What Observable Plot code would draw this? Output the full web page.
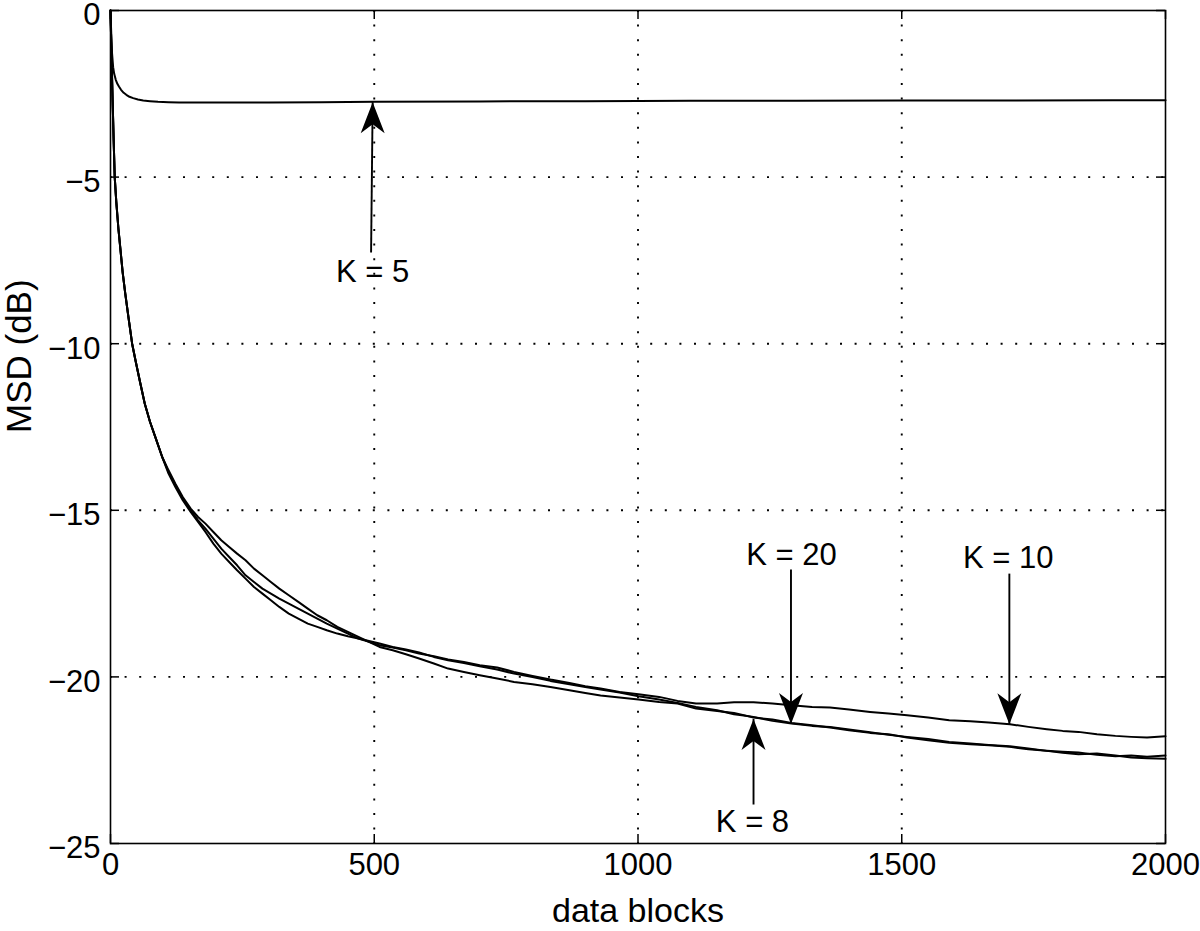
<!DOCTYPE html>
<html>
<head>
<meta charset="utf-8">
<script src="https://cdn.jsdelivr.net/npm/d3@7"></script>
<script src="https://cdn.jsdelivr.net/npm/@observablehq/plot@0.6"></script>
<style>
  html, body { margin: 0; padding: 0; background: #fff; }
  #chart svg { display: block; overflow: visible; }
</style>
</head>
<body>
<div id="chart"></div>
<script>
// ---- tick values ----
const xTicks = [0, 500, 1000, 1500, 2000];
const yTicks = [0, -5, -10, -15, -20, -25];

// ---- K = 5 curve ----
const blocksK5 = [0, 1, 2, 3, 5, 7, 10, 13, 16, 20, 25, 30, 36, 43, 52, 62, 75, 90, 110, 130, 160, 200, 300, 400, 500, 700, 900, 1100, 1300, 1500, 1700, 1900, 2000];
const msdK5 = [0, -0.5, -0.95, -1.3, -1.7, -1.9, -2.08, -2.2, -2.28, -2.38, -2.47, -2.53, -2.59, -2.63, -2.67, -2.7, -2.72, -2.74, -2.75, -2.76, -2.76, -2.76, -2.76, -2.75, -2.74, -2.73, -2.72, -2.71, -2.71, -2.7, -2.7, -2.69, -2.69];

// ---- K = 8, 10, 20 curves (shared data block positions) ----
const blocks = [0, 2, 4, 6, 8, 11, 15, 19, 23, 28, 34, 41, 48, 56, 65, 75, 86, 98, 110, 123, 137, 152,
  166, 180, 195, 210, 225, 240, 256, 272, 288, 304, 320, 338, 356, 374, 392, 410, 430, 450, 470, 490,
  510, 535, 560, 585, 613, 640, 670, 700, 733, 765, 800, 834, 870, 900, 929, 965, 1001, 1040, 1075, 1110,
  1150, 1182, 1219, 1255, 1291, 1330, 1364, 1400, 1440, 1475, 1510, 1550, 1590, 1630, 1665,
  1705, 1740, 1775, 1805, 1835, 1870, 1905, 1935, 1965, 2000];

const msdK10 = [0, -1.4, -2.7, -3.9, -5.0, -5.75, -6.55, -7.2, -7.85, -8.5, -9.2, -10.0, -10.55, -11.15, -11.8, -12.35, -12.85, -13.4, -13.8, -14.2, -14.6, -14.95,
  -15.2, -15.4, -15.65, -15.9, -16.1, -16.3, -16.5, -16.75, -16.95, -17.15, -17.35, -17.55, -17.75, -17.95, -18.15, -18.3, -18.5, -18.65, -18.8, -18.95,
  -19.05, -19.12, -19.2, -19.3, -19.38, -19.48, -19.55, -19.65, -19.72, -19.85, -19.97, -20.08, -20.18, -20.28, -20.35, -20.45, -20.52, -20.6, -20.72, -20.8,
  -20.8, -20.76, -20.76, -20.8, -20.85, -20.9, -20.92, -20.98, -21.05, -21.1, -21.15, -21.22, -21.3, -21.33, -21.37,
  -21.42, -21.5, -21.57, -21.62, -21.65, -21.72, -21.77, -21.8, -21.82, -21.78];

const msdK20 = [0, -1.4, -2.7, -3.9, -5.0, -5.75, -6.55, -7.2, -7.85, -8.5, -9.2, -10.0, -10.55, -11.15, -11.8, -12.35, -12.85, -13.4, -13.9, -14.3, -14.7, -15.05,
  -15.35, -15.65, -16.0, -16.3, -16.55, -16.8, -17.05, -17.3, -17.5, -17.7, -17.9, -18.1, -18.25, -18.4, -18.5, -18.6, -18.7, -18.78, -18.85, -18.92,
  -19.0, -19.1, -19.18, -19.27, -19.4, -19.5, -19.58, -19.68, -19.78, -19.9, -20.0, -20.12, -20.22, -20.3, -20.38, -20.47, -20.58, -20.68, -20.78, -20.9,
  -21.0, -21.12, -21.2, -21.32, -21.4, -21.47, -21.5, -21.58, -21.66, -21.74, -21.8, -21.86, -21.95, -22.0, -22.04,
  -22.08, -22.15, -22.22, -22.25, -22.27, -22.34, -22.38, -22.36, -22.4, -22.36];

const msdK8 = [0, -1.4, -2.7, -3.9, -5.0, -5.75, -6.55, -7.2, -7.85, -8.5, -9.2, -10.0, -10.55, -11.15, -11.8, -12.35, -12.85, -13.4, -13.85, -14.25, -14.65, -15.0,
  -15.3, -15.55, -15.85, -16.15, -16.4, -16.65, -16.95, -17.15, -17.35, -17.5, -17.65, -17.8, -17.95, -18.1, -18.25, -18.4, -18.55, -18.7, -18.85, -18.95,
  -19.1, -19.2, -19.32, -19.45, -19.6, -19.75, -19.85, -19.95, -20.05, -20.15, -20.22, -20.3, -20.4, -20.48, -20.56, -20.62, -20.68, -20.75, -20.8, -20.95,
  -21.02, -21.08, -21.22, -21.28, -21.38, -21.45, -21.52, -21.6, -21.68, -21.72, -21.82, -21.9, -21.98, -22.02, -22.05,
  -22.1, -22.17, -22.22, -22.28, -22.32, -22.3, -22.36, -22.42, -22.44, -22.46];

// ---- annotations ----
const annoLabel = ["K = 5", "K = 20", "K = 10", "K = 8"];
const annoLabelX = [497, 1291, 1702, 1217];
const annoLabelY = [-7.85, -16.33, -16.42, -24.37];
const arrowTailX = [494, 1290, 1704, 1219];
const arrowTailY = [-7.26, -16.78, -16.9, -23.83];
const arrowTipX = [497, 1290, 1704, 1219];
const arrowTipY = [-2.75, -21.41, -21.42, -21.26];

// ---- axis titles ----
const xTitle = "data blocks";
const yTitle = "MSD (dB)";

// ---- build tables ----
const rows = [];
blocksK5.forEach((b, i) => rows.push({k: "K = 5", x: b, y: msdK5[i]}));
blocks.forEach((b, i) => rows.push({k: "K = 8", x: b, y: msdK8[i]}));
blocks.forEach((b, i) => rows.push({k: "K = 10", x: b, y: msdK10[i]}));
blocks.forEach((b, i) => rows.push({k: "K = 20", x: b, y: msdK20[i]}));

const anno = annoLabel.map((t, i) => ({
  t, lx: annoLabelX[i], ly: annoLabelY[i],
  x1: arrowTailX[i], y1: arrowTailY[i], x2: arrowTipX[i], y2: arrowTipY[i],
  up: arrowTipY[i] > arrowTailY[i]
}));

const W = 1200, H = 931, mL = 110, mR = 35, mT = 10, mB = 88;
const xDomain = [0, 2000], yDomain = [-25, 0];
const tickPx = 9;
const txLen = (xDomain[1] - xDomain[0]) * tickPx / (W - mL - mR);
const tyLen = (yDomain[1] - yDomain[0]) * tickPx / (H - mT - mB);

const arrowUp = {draw(ctx) { ctx.moveTo(0, 0); ctx.lineTo(-12, 31); ctx.lineTo(0, 22); ctx.lineTo(12, 31); ctx.closePath(); }};
const arrowDown = {draw(ctx) { ctx.moveTo(0, 0); ctx.lineTo(-12, -31); ctx.lineTo(0, -22); ctx.lineTo(12, -31); ctx.closePath(); }};

const fmtY = d => d < 0 ? "\u2212" + String(-d) : String(d);
const font = "'Liberation Sans', Arial, Helvetica, sans-serif";

const chart = Plot.plot({
  width: W, height: H,
  marginLeft: mL, marginRight: mR, marginTop: mT, marginBottom: mB,
  style: {fontFamily: font, fontSize: "30px", color: "black", background: "white"},
  x: {domain: xDomain, axis: null},
  y: {domain: yDomain, axis: null},
  marks: [
    // dotted grid
    Plot.ruleX(xTicks.slice(1, -1), {x: d => d, stroke: "black", strokeWidth: 1.9, strokeDasharray: "2,12.6"}),
    Plot.ruleY(yTicks.slice(1, -1), {y: d => d, stroke: "black", strokeWidth: 1.9, strokeDasharray: "2,12.6"}),
    // inward tick marks on all four sides
    Plot.ruleX(xTicks, {x: d => d, y1: yDomain[0], y2: yDomain[0] + tyLen, stroke: "black", strokeWidth: 1.5}),
    Plot.ruleX(xTicks, {x: d => d, y1: yDomain[1], y2: yDomain[1] - tyLen, stroke: "black", strokeWidth: 1.5}),
    Plot.ruleY(yTicks, {y: d => d, x1: xDomain[0], x2: xDomain[0] + txLen, stroke: "black", strokeWidth: 1.5}),
    Plot.ruleY(yTicks, {y: d => d, x1: xDomain[1], x2: xDomain[1] - txLen, stroke: "black", strokeWidth: 1.5}),
    // tick labels
    Plot.text(xTicks, {x: d => d, text: d => String(d), frameAnchor: "bottom", dy: 31, fontSize: 31, fill: "black"}),
    Plot.text(yTicks, {y: d => d, text: fmtY, frameAnchor: "left", textAnchor: "end", dx: -10, dy: 5, fontSize: 31, fill: "black"}),
    // curves
    Plot.line(rows, {x: "x", y: "y", z: "k", stroke: "black", strokeWidth: 2, strokeLinejoin: "round"}),
    // arrows
    Plot.link(anno, {x1: "x1", y1: "y1", x2: "x2", y2: "y2", stroke: "black", strokeWidth: 1.9}),
    Plot.dot(anno.filter(d => d.up), {x: "x2", y: "y2", symbol: arrowUp, fill: "black", stroke: "none"}),
    Plot.dot(anno.filter(d => !d.up), {x: "x2", y: "y2", symbol: arrowDown, fill: "black", stroke: "none"}),
    // annotation labels
    Plot.text(anno, {x: "lx", y: "ly", text: "t", fontSize: 31, fill: "black"}),
    // axis titles
    Plot.text([xTitle], {frameAnchor: "bottom", dy: 78, fontSize: 34, fill: "black"}),
    Plot.text([yTitle], {frameAnchor: "left", rotate: -90, dx: -91, dy: 6, fontSize: 35, fill: "black"}),
    // frame
    Plot.frame({stroke: "black", strokeWidth: 1.6})
  ]
});
document.getElementById("chart").appendChild(chart);
</script>
</body>
</html>
